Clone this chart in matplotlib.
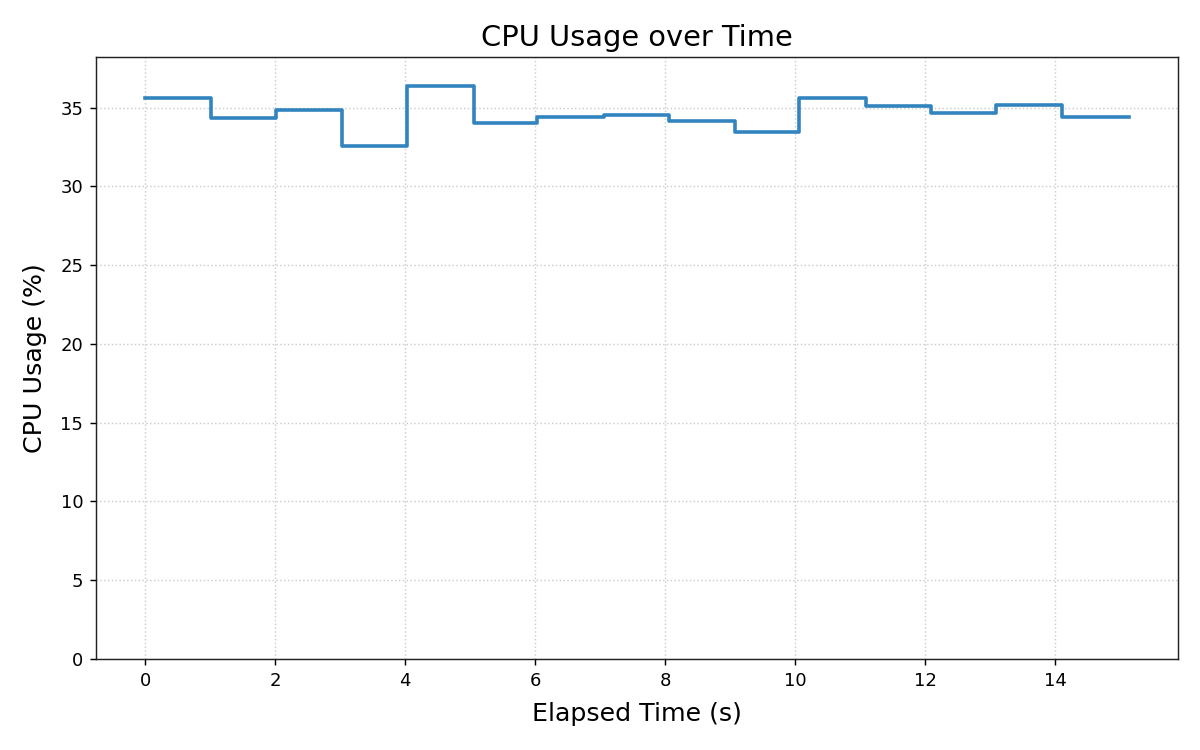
import matplotlib

matplotlib.use("Agg")
import matplotlib.pyplot as plt

# sample times (s) and CPU usage (%) for each interval
elapsed_s = [0.0, 1.01, 2.01, 3.02, 4.02, 5.05, 6.03, 7.05, 8.05, 9.07,
             10.06, 11.09, 12.09, 13.09, 14.10, 15.13]
cpu_pct = [35.63, 34.31, 34.84, 32.54, 36.39, 33.99, 34.37, 34.56, 34.14,
           33.45, 35.63, 35.13, 34.65, 35.15, 34.37]

DPI = 130


def main() -> None:
    fig = plt.figure(figsize=(1200 / DPI, 750 / DPI), dpi=DPI)
    ax = fig.add_axes([0.08, 0.1213, 0.9017, 0.8027])

    # repeat last value so the final interval is drawn up to the last timestamp
    y = cpu_pct + [cpu_pct[-1]]
    ax.step(elapsed_s, y, where="post", color="#3284be", linewidth=2.0)

    ax.set_ylim(0, max(cpu_pct) * 1.05)
    ax.set_title("CPU Usage over Time", fontsize=16)
    ax.set_xlabel("Elapsed Time (s)", fontsize=14, labelpad=7)
    ax.set_ylabel("CPU Usage (%)", fontsize=14, labelpad=7.5)
    ax.tick_params(labelsize=10)
    ax.grid(True, linestyle=":", color="#cccccc", linewidth=0.8)
    for spine in ax.spines.values():
        spine.set_color("#222222")

    fig.savefig("out.png", dpi=DPI)
    plt.close(fig)


if __name__ == "__main__":
    main()
